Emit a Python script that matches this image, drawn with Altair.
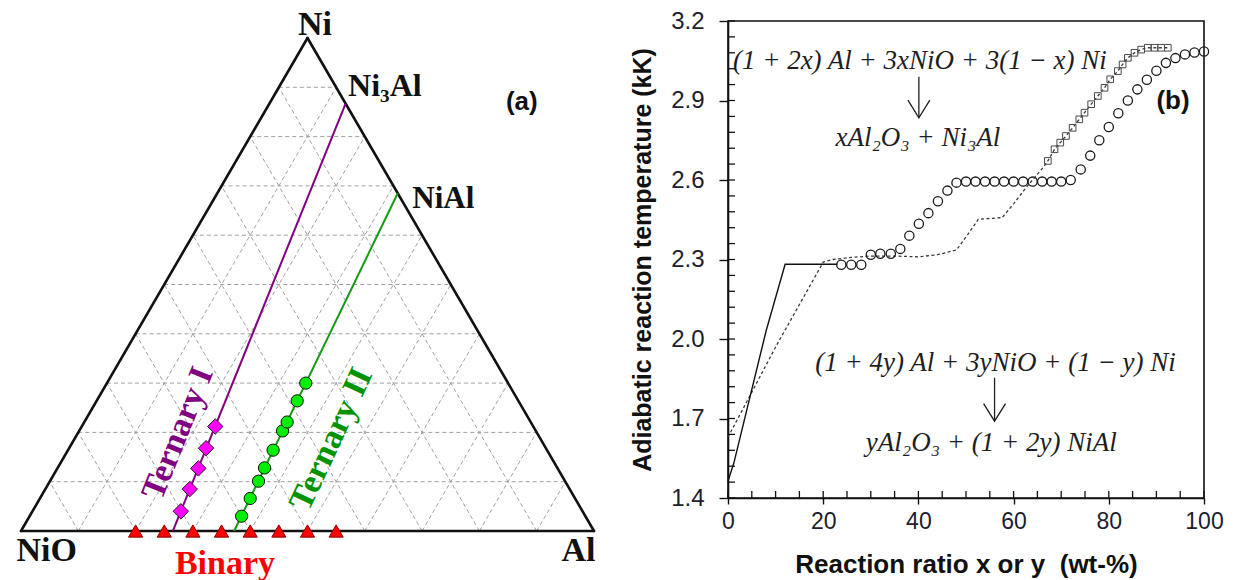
import numpy as np
import pandas as pd
import altair as alt

# ---------------- (a) ternary NiO - Ni - Al diagram (weight fractions) ----------------
grid_levels = [0.1, 0.2, 0.3, 0.4, 0.5, 0.6, 0.7, 0.8, 0.9]

# end points of the two reaction paths: (Al, Ni); NiO is the remainder
path1_Al = [0.265, 0.133]   # 3Al + 3NiO  ->  Ni3Al
path1_Ni = [0.000, 0.867]
path2_Al = [0.372, 0.315]   # 5Al + 3NiO  ->  NiAl
path2_Ni = [0.000, 0.685]

ternary1_Ni = [0.040, 0.085, 0.127, 0.168, 0.212]
ternary1_Al = [0.259, 0.252, 0.246, 0.239, 0.233]
ternary2_Ni = [0.030, 0.066, 0.101, 0.128, 0.164, 0.203, 0.221, 0.264, 0.300]
ternary2_Al = [0.370, 0.367, 0.364, 0.361, 0.358, 0.355, 0.354, 0.350, 0.347]
binary_Al = [0.20, 0.25, 0.30, 0.35, 0.40, 0.45, 0.50, 0.55]

corner_text = ["Ni", "NiO", "Al", "Ni\u2083Al", "NiAl"]
corner_x = [0.513, 0.045, 0.973, 0.635, 0.737]
corner_y = [1.026, -0.041, -0.040, 0.903, 0.673]
corner_size = [34, 34, 34, 32, 31]

path_text = ["Ternary I", "Ternary II", "Binary"]
path_text_x = [0.274, 0.542, 0.356]
path_text_y = [0.198, 0.186, -0.066]
path_text_angle = [292, 295, 0]
path_text_color = ["#800080", "#009300", "#ff0000"]


def to_xy(al, ni):
    """Barycentric (Al, Ni) -> cartesian position inside the triangle."""
    al = np.asarray(al, dtype=float)
    ni = np.asarray(ni, dtype=float)
    return al + ni / 2.0, ni


def segment_rows(pairs):
    rows = []
    for (a1, n1), (a2, n2) in pairs:
        x1, y1 = to_xy(a1, n1)
        x2, y2 = to_xy(a2, n2)
        rows.append({"x": float(x1), "y": float(y1), "x2": float(x2), "y2": float(y2)})
    return pd.DataFrame(rows)


grid_pairs = []
for k in grid_levels:
    grid_pairs.append(((0.0, k), (1.0 - k, k)))          # constant Ni
    grid_pairs.append(((k, 0.0), (k, 1.0 - k)))          # constant Al
    grid_pairs.append(((1.0 - k, 0.0), (0.0, 1.0 - k)))  # constant NiO
grid_df = segment_rows(grid_pairs)

edge_df = segment_rows([((0, 0), (1, 0)), ((1, 0), (0, 1)), ((0, 1), (0, 0))])

path_df = segment_rows([((path1_Al[0], path1_Ni[0]), (path1_Al[1], path1_Ni[1])),
                        ((path2_Al[0], path2_Ni[0]), (path2_Al[1], path2_Ni[1]))])
path_df["color"] = ["#800080", "#149a14"]

t1x, t1y = to_xy(ternary1_Al, ternary1_Ni)
t2x, t2y = to_xy(ternary2_Al, ternary2_Ni)
bx, by = to_xy(binary_Al, [0.0] * len(binary_Al))
t1_df = pd.DataFrame({"x": t1x, "y": t1y})
t2_df = pd.DataFrame({"x": t2x, "y": t2y})
bin_df = pd.DataFrame({"x": bx, "y": by})

corner_df = pd.DataFrame({"text": corner_text, "x": corner_x, "y": corner_y, "size": corner_size})
ptext_df = pd.DataFrame({"text": path_text, "x": path_text_x, "y": path_text_y,
                         "angle": path_text_angle, "color": path_text_color})
panel_a_df = pd.DataFrame({"text": ["(a)"], "x": [0.874], "y": [0.870]})

tx = alt.Scale(domain=[-0.034904, 1.047120], nice=False, zero=False)
ty = alt.Scale(domain=[0.06694, 1.03448], nice=False, zero=False)
TX = alt.X("x:Q", scale=tx, axis=None)
TY = alt.Y("y:Q", scale=ty, axis=None)

grid = alt.Chart(grid_df).mark_rule(color="#a0a0a0", strokeWidth=1, strokeDash=[4, 3]).encode(
    x=TX, y=TY, x2="x2:Q", y2="y2:Q")
edges = alt.Chart(edge_df).mark_rule(color="#111111", strokeWidth=2.6, strokeCap="round").encode(
    x=TX, y=TY, x2="x2:Q", y2="y2:Q")
paths = alt.Chart(path_df).mark_rule(strokeWidth=2).encode(
    x=TX, y=TY, x2="x2:Q", y2="y2:Q", color=alt.Color("color:N", scale=None))
diamonds = alt.Chart(t1_df).mark_point(shape="diamond", filled=True, fill="#ff00ff",
                                      stroke="#222222", strokeWidth=1, size=240, opacity=1).encode(x=TX, y=TY)
greens = alt.Chart(t2_df).mark_point(shape="circle", filled=True, fill="#00ee00",
                                    stroke="#111111", strokeWidth=1, size=150, opacity=1).encode(x=TX, y=TY)
triangles = alt.Chart(bin_df).mark_point(shape="triangle-up", filled=True, fill="#ff0000",
                                        stroke="#8a0000", strokeWidth=1, size=200, opacity=1).encode(x=TX, y=TY)
corners = alt.Chart(corner_df).mark_text(font="Liberation Serif", fontWeight="bold",
                                        color="#111111", baseline="middle").encode(
    x=TX, y=TY, text="text:N", size=alt.Size("size:Q", scale=None))
ptexts = alt.Chart(ptext_df).mark_text(font="Liberation Serif", fontWeight="bold",
                                      fontSize=34, baseline="middle").encode(
    x=TX, y=TY, text="text:N", angle=alt.Angle("angle:Q", scale=None),
    color=alt.Color("color:N", scale=None))
panel_a = alt.Chart(panel_a_df).mark_text(font="Liberation Sans", fontWeight="bold",
                                         fontSize=26, color="#111111", baseline="middle").encode(
    x=TX, y=TY, text="text:N")

left = alt.layer(grid, edges, paths, diamonds, greens, triangles, corners, ptexts, panel_a).properties(
    width=620, height=477, view=alt.ViewBackground(stroke="transparent"))

# ---------------- (b) adiabatic temperature vs reaction ratio ----------------
x_major = [0, 20, 40, 60, 80, 100]
y_major = [1.4, 1.7, 2.0, 2.3, 2.6, 2.9, 3.2]
x_minor = [round(v, 2) for v in np.arange(0, 100.1, 5)]
y_minor = [round(v, 2) for v in np.arange(1.4, 3.201, 0.06)]

solid_x = [0, 1.2, 8, 12, 23]
solid_T = [1.464, 1.53, 2.03, 2.282, 2.282]

dash_x = [0, 4, 10, 15, 20, 22, 26, 30, 35, 40, 44, 48, 50.4, 52.6, 57.6, 60, 62.6, 66.2]
dash_T = [1.63, 1.765, 1.97, 2.13, 2.29, 2.30, 2.308, 2.313, 2.313, 2.31, 2.318, 2.336,
          2.395, 2.452, 2.458, 2.51, 2.571, 2.647]

square_x = [67.2, 68.6, 69.8, 71.0, 72.4, 73.8, 74.9, 76.3, 77.7, 79.1, 80.3, 81.9,
            82.9, 84.0, 85.4, 86.8, 88.2, 89.6, 91.0, 92.4]
square_T = [2.672, 2.716, 2.741, 2.766, 2.797, 2.829, 2.854, 2.886, 2.917, 2.948, 2.980, 3.011,
            3.036, 3.061, 3.080, 3.092, 3.099, 3.099, 3.099, 3.099]

circle_x = [23.8, 25.9, 28.0, 30.0, 32.0, 34.2, 36.2, 38.1, 40.1, 42.1, 44.1, 46.1, 48.0,
            50.0, 52.0, 54.0, 56.0, 58.0, 60.0, 62.0, 64.0, 66.0, 68.0, 70.0, 72.0,
            74.1, 76.1, 78.0, 80.0, 82.0, 84.0, 86.0, 88.0, 90.0, 92.0, 94.0, 96.0, 98.0, 100.0]
circle_T = [2.280, 2.280, 2.280, 2.318, 2.322, 2.322, 2.340, 2.390, 2.435, 2.475, 2.520, 2.560, 2.590,
            2.594, 2.594, 2.594, 2.594, 2.594, 2.594, 2.594, 2.594, 2.594, 2.594, 2.594, 2.600,
            2.640, 2.692, 2.750, 2.800, 2.852, 2.900, 2.942, 2.978, 3.012, 3.042, 3.060, 3.074, 3.081, 3.085]

eq_text = ["(1 + 2x) Al + 3xNiO + 3(1 \u2212 x) Ni", "xAl\u2082O\u2083 + Ni\u2083Al",
           "(1 + 4y) Al + 3yNiO + (1 \u2212 y) Ni", "yAl\u2082O\u2083 + (1 + 2y) NiAl"]
eq_x = [40.3, 39.9, 56.2, 55.3]
eq_T = [3.05, 2.758, 1.911, 1.606]

arrow_x = [40.1, 56.0]
arrow_top = [2.99, 1.854]
arrow_tip = [2.835, 1.69]
arrow_head = [2.868, 1.723]

xs = alt.Scale(domain=[0, 100], nice=False, zero=False)
ys = alt.Scale(domain=[1.4, 3.2], nice=False, zero=False)

axis_x = alt.Axis(values=x_major, title="Reaction ratio x or y\u00a0 (wt-%)", grid=False,
                  tickSize=6, labelPadding=6, titlePadding=18, titleFontSize=26, labelFlush=False)
axis_y = alt.Axis(values=y_major, format=".1f", title="Adiabatic reaction temperature (kK)",
                  grid=False, tickSize=9, labelPadding=15, titlePadding=15, titleFontSize=25,
                  labelFontSize=24, labelFlush=False)

X = alt.X("x:Q", scale=xs, axis=axis_x)
Y = alt.Y("T:Q", scale=ys, axis=axis_y)

dash_all = pd.DataFrame({"x": dash_x + square_x, "T": dash_T + square_T})

line_dash = alt.Chart(dash_all).mark_line(color="#3a3a3a", strokeWidth=1.3, strokeDash=[3, 2.5]).encode(
    x=X, y=Y)
line_solid = alt.Chart(pd.DataFrame({"x": solid_x, "T": solid_T})).mark_line(
    color="#111111", strokeWidth=1.4).encode(x=X, y=Y)
squares = alt.Chart(pd.DataFrame({"x": square_x, "T": square_T})).mark_point(
    shape="square", filled=False, stroke="#4a4a4a", strokeWidth=1, size=44, opacity=1).encode(x=X, y=Y)
circles = alt.Chart(pd.DataFrame({"x": circle_x, "T": circle_T})).mark_point(
    shape="circle", filled=False, stroke="#1a1a1a", strokeWidth=1.3, size=85, opacity=1).encode(x=X, y=Y)

x_in = alt.Chart(pd.DataFrame({"x": x_minor})).mark_rule(color="#111111", strokeWidth=1.3).encode(
    x=X, y=alt.value(477), y2=alt.value(470))
y_in = alt.Chart(pd.DataFrame({"T": y_minor})).mark_rule(color="#111111", strokeWidth=1.3).encode(
    y=Y, x=alt.value(0), x2=alt.value(7))

eqs = alt.Chart(pd.DataFrame({"x": eq_x, "T": eq_T, "text": eq_text})).mark_text(
    font="Liberation Serif", fontStyle="italic", fontSize=27, color="#1e1e1e", baseline="middle").encode(
    x=X, y=Y, text="text:N")

arrow_df = pd.DataFrame({"x": arrow_x, "T": arrow_top, "T2": arrow_tip, "H": arrow_head})
shafts = alt.Chart(arrow_df).mark_rule(color="#1e1e1e", strokeWidth=1.3).encode(
    x=X, y=Y, y2="T2:Q")
heads = alt.Chart(arrow_df).mark_point(shape="M-1,-0.8L0,0.8L1,-0.8", filled=False,
                                      stroke="#1e1e1e", strokeWidth=1.3, size=480, opacity=1).encode(
    x=X, y=alt.Y("H:Q", scale=ys, axis=axis_y))

panel_b = alt.Chart(pd.DataFrame({"x": [93.5], "T": [2.898], "text": ["(b)"]})).mark_text(
    font="Liberation Sans", fontWeight="bold", fontSize=26, color="#111111", baseline="middle").encode(
    x=X, y=Y, text="text:N")

right = alt.layer(line_dash, line_solid, squares, circles, x_in, y_in, eqs, shafts, heads, panel_b).properties(
    width=476, height=477)

chart = alt.hconcat(left, right, spacing=107, bounds="flush").properties(
    padding={"left": 0, "top": 7, "right": 4, "bottom": 0}
).configure_view(
    stroke="#111111", strokeWidth=1.6
).configure_axis(
    domainColor="#111111", domainWidth=1.6, tickColor="#111111", tickWidth=1.4,
    labelFont="Liberation Sans", labelFontSize=23, labelColor="#20202c",
    titleFont="Liberation Sans", titleFontSize=24, titleFontWeight="bold", titleColor="#111111"
)

chart.save("out.html", embed_options={"renderer": "svg", "actions": False})
